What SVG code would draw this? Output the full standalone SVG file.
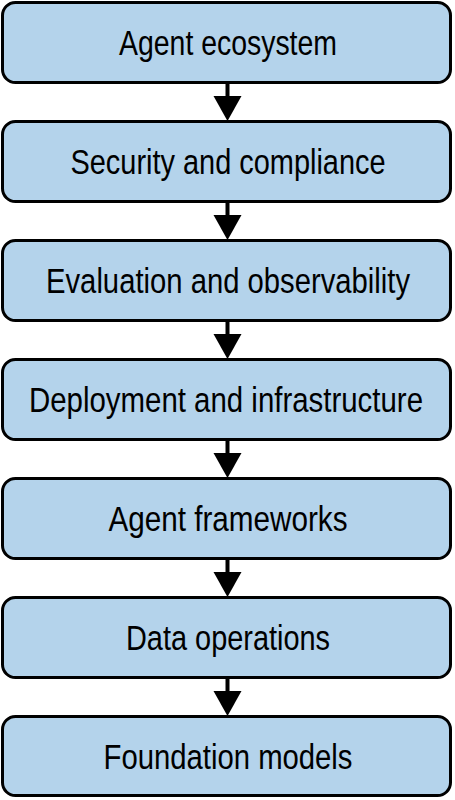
<svg xmlns="http://www.w3.org/2000/svg" width="455" height="800" viewBox="0 0 455 800">
<style>
.box{fill:#b4d3eb;stroke:#000;stroke-width:3}
.lbl{font-family:"Liberation Sans",Arial,sans-serif;font-size:30px;fill:#000;text-anchor:middle}
.con{stroke:#000;stroke-width:4;fill:none}
.head{fill:#000}
</style>
<rect width="455" height="800" fill="#fff"/>
<g id="connectors">
<line class="con" x1="227.5" y1="84" x2="227.5" y2="98"/><polygon class="head" points="213.5,96 241.5,96 227.5,121"/>
<line class="con" x1="227.5" y1="203" x2="227.5" y2="217"/><polygon class="head" points="213.5,215 241.5,215 227.5,240"/>
<line class="con" x1="227.5" y1="322" x2="227.5" y2="336"/><polygon class="head" points="213.5,334 241.5,334 227.5,359"/>
<line class="con" x1="227.5" y1="441" x2="227.5" y2="455"/><polygon class="head" points="213.5,453 241.5,453 227.5,478"/>
<line class="con" x1="227.5" y1="560" x2="227.5" y2="574"/><polygon class="head" points="213.5,572 241.5,572 227.5,597"/>
<line class="con" x1="227.5" y1="679" x2="227.5" y2="693"/><polygon class="head" points="213.5,691 241.5,691 227.5,716"/>
</g>
<g id="n1"><rect class="box" x="2.5" y="2.5" width="448" height="80" rx="13"/><text class="lbl" transform="translate(228,54.5) scale(1,1.17)" textLength="218" lengthAdjust="spacingAndGlyphs">Agent ecosystem</text></g>
<g id="n2"><rect class="box" x="2.5" y="121.5" width="448" height="80" rx="13"/><text class="lbl" transform="translate(228,173.5) scale(1,1.17)" textLength="315" lengthAdjust="spacingAndGlyphs">Security and compliance</text></g>
<g id="n3"><rect class="box" x="2.5" y="240.5" width="448" height="80" rx="13"/><text class="lbl" transform="translate(228,292.5) scale(1,1.17)" textLength="364" lengthAdjust="spacingAndGlyphs">Evaluation and observability</text></g>
<g id="n4"><rect class="box" x="2.5" y="359.5" width="448" height="80" rx="13"/><text class="lbl" transform="translate(226,411.5) scale(1,1.17)" textLength="394" lengthAdjust="spacingAndGlyphs">Deployment and infrastructure</text></g>
<g id="n5"><rect class="box" x="2.5" y="478.5" width="448" height="80" rx="13"/><text class="lbl" transform="translate(228,530.5) scale(1,1.17)" textLength="239" lengthAdjust="spacingAndGlyphs">Agent frameworks</text></g>
<g id="n6"><rect class="box" x="2.5" y="597.5" width="448" height="80" rx="13"/><text class="lbl" transform="translate(228,649.5) scale(1,1.17)" textLength="204" lengthAdjust="spacingAndGlyphs">Data operations</text></g>
<g id="n7"><rect class="box" x="2.5" y="716.5" width="448" height="79" rx="13"/><text class="lbl" transform="translate(228,768.5) scale(1,1.17)" textLength="249" lengthAdjust="spacingAndGlyphs">Foundation models</text></g>
</svg>
